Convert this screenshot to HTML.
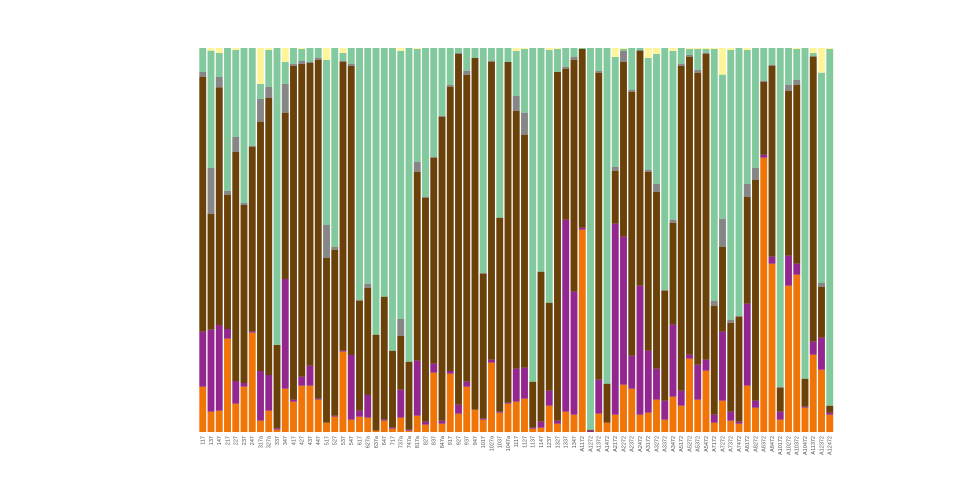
<!DOCTYPE html>
<html><head><meta charset="utf-8"><style>
html,body{margin:0;padding:0;background:#fff;width:960px;height:480px;overflow:hidden}
svg{display:block}
text{font-family:"Liberation Sans",sans-serif;font-size:5.5px;fill:#555}
</style></head><body>
<svg id="s" width="960" height="480" xmlns="http://www.w3.org/2000/svg"></svg>
<script>
var L="117,137,147,217,227,237,247,317a,327a,337,347,417,427,437,447,517,527,537,547,617,627a,637a,647,717,737a,747a,817a,827,837,847a,917,927,937,947,1017,1027a,1037,1047a,1117,1127,1137,1147,1237,1327,1337,1347,A1172,A1272,A1372,A1472,A2172,A2272,A2372,A2472,A3172,A3272,A3372,A3472,A5172,A5272,A5372,A5472,A7172,A7272,A7372,A7472,A8172,A8272,A8372,A8472,A10172,A10272,A10372,A10472,A11372,A12372,A12472".split(",");
var D=[
[1028,863,98,84,12],[1103,857,510,372,20],[1100,843,130,99,27],[884,855,452,440,12],[1079,1011,323,279,18],
[1028,1017,483,477,12],[866,862,308,305,12],[1130,981,233,165,120],[1100,993,161,128,18],[1157,1153,903,903,12],
[1034,705,206,120,54],[1073,1067,65,59,12],[1025,998,60,51,15],[1025,965,57,53,12],[1067,1064,47,41,12],
[1136,1136,642,543,48],[1118,1115,617,608,12],[923,920,53,50,27],[1127,933,66,59,12],[1118,1100,770,767,12],
[1121,1053,731,719,12],[1160,1160,872,872,12],[1130,1127,758,758,12],[1154,1151,920,920,12],[1121,1037,875,825,21],
[1160,1157,953,953,12],[1115,950,383,353,15],[1142,1133,461,458,12],[986,959,341,338,12],[1139,1130,218,215,12],
[989,981,128,122,12],[1109,1082,30,27,12],[1028,1013,92,80,12],[1097,1097,42,42,12],[1127,1124,689,686,12],
[956,947,53,50,12],[1106,1103,521,521,12],[1079,1076,54,54,12],[1073,974,200,155,21],[1064,971,272,206,15],
[1154,1151,1013,1013,12],[1151,1133,683,683,12],[1085,1040,776,776,18],[1139,1130,84,84,15],[1103,527,74,68,12],
[1112,743,47,38,12],[557,551,15,15,12],[1164,1160,1157,1157,12],[1109,1007,86,80,12],[1136,1136,1019,1019,12],
[1112,539,380,368,39],[1022,578,53,20,15],[1034,935,143,137,12],[1112,725,21,18,12],[1106,920,383,377,42],
[1067,974,443,419,30],[1127,1070,740,737,12],[1058,842,536,527,21],[1085,1040,65,59,12],[944,932,38,33,15],
[1067,962,86,77,15],[980,947,29,26,15],[1136,1112,785,770,15],[1070,863,608,524,92],[1130,1103,836,827,18],
[1139,1133,818,815,12],[1025,779,458,419,18],[1091,1070,407,371,12],[341,332,113,110,12],[659,638,65,62,12],
[1127,1103,1031,1028,12],[725,635,140,122,12],[692,659,122,107,15],[1091,1088,1004,1004,12],[932,893,38,35,27],
[977,881,728,716,86],[1112,1106,1085,1085,15]];
var C=["#f07406","#93278f","#6b410a","#868686","#82ca9d","#fef59b"];
var h="";
function Y(z){return 44+z/3;}
for(var i=0;i<D.length;i++){
 var x=199.3+i*8.25,w=6.9,d=D[i];
 var ys=[432,Y(d[0]),Y(d[1]),Y(d[2]),Y(d[3]),Y(d[4]),48];
 for(var k=0;k<6;k++){var y1=ys[k+1],y0=ys[k];if(y0-y1>0.05)h+='<rect x="'+x.toFixed(2)+'" y="'+y1.toFixed(2)+'" width="'+w+'" height="'+(y0-y1).toFixed(2)+'" fill="'+C[k]+'"/>';}
 var cx=x+w/2+1.8;
 h+='<text transform="translate('+cx.toFixed(2)+',436) rotate(-90)" text-anchor="end">'+L[i]+'</text>';
}
document.getElementById("s").innerHTML=h;
</script>
</body></html>
